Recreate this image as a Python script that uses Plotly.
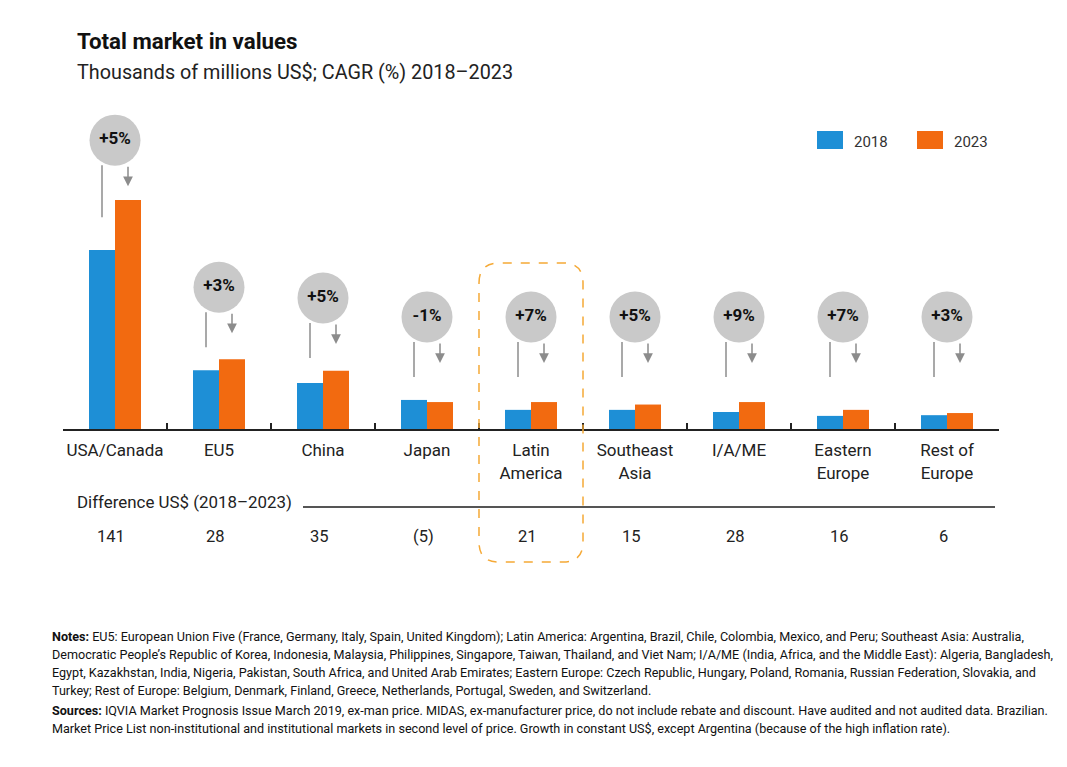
import plotly.graph_objects as go

# ---------------- data ----------------
categories = ["USA/Canada", "EU5", "China", "Japan", "Latin America",
              "Southeast Asia", "I/A/ME", "Eastern Europe", "Rest of Europe"]
tick_labels = ["USA/Canada", "EU5", "China", "Japan", "Latin<br>America",
               "Southeast<br>Asia", "I/A/ME", "Eastern<br>Europe", "Rest of<br>Europe"]
values_2018 = [505, 166, 130, 82, 54, 54, 48, 37, 39]
values_2023 = [646, 197, 164, 76, 76, 69, 76, 54, 45]
cagr_labels = ["+5%", "+3%", "+5%", "-1%", "+7%", "+5%", "+9%", "+7%", "+3%"]
difference = [141, 28, 35, -5, 21, 15, 28, 16, 6]
highlight = "Latin America"

notes_lines = [
    "<b>Notes:</b> EU5: European Union Five (France, Germany, Italy, Spain, United Kingdom); Latin America: Argentina, Brazil, Chile, Colombia, Mexico, and Peru; Southeast Asia: Australia,",
    "Democratic People\u2019s Republic of Korea, Indonesia, Malaysia, Philippines, Singapore, Taiwan, Thailand, and Viet Nam; I/A/ME (India, Africa, and the Middle East): Algeria, Bangladesh,",
    "Egypt, Kazakhstan, India, Nigeria, Pakistan, South Africa, and United Arab Emirates; Eastern Europe: Czech Republic, Hungary, Poland, Romania, Russian Federation, Slovakia, and",
    "Turkey; Rest of Europe: Belgium, Denmark, Finland, Greece, Netherlands, Portugal, Sweden, and Switzerland.",
]
sources_lines = [
    "<b>Sources:</b> IQVIA Market Prognosis Issue March 2019, ex-man price. MIDAS, ex-manufacturer price, do not include rebate and discount. Have audited and not audited data. Brazilian.",
    "Market Price List non-institutional and institutional markets in second level of price. Growth in constant US$, except Argentina (because of the high inflation rate).",
]

# ---------------- style ----------------
BLUE = "#1E8FD6"
ORANGE = "#F26A10"
GREY_BUBBLE = "#C9C9C9"
GREY_LINE = "#8C8C8C"
DASH_COLOR = "#F5A936"
FONT = "Roboto"
TXT = "#222222"

W, H = 1067, 767
OFF = 8                       # page margin around the figure
SPL, SPR, SPT, SPB = 63, 999, 110, 429   # plot area in screen pixels
PL, PR, PT, PB = SPL - OFF, SPR - OFF, SPT - OFF, SPB - OFF
YMAX = 900


def px_x(px):
    return (px - SPL) / (SPR - SPL)


def px_y(py):
    return (SPB - py) / (SPB - SPT)


BUBBLE_R = 25
# bubble placement derived from 2023 values
bubble_y = [max(316, 0.924 * v + 218) for v in values_2023]

fig = go.Figure()
fig.add_trace(go.Bar(x=categories, y=values_2018, name="2018", marker_color=BLUE,
                     marker_line_width=0, showlegend=False))
fig.add_trace(go.Bar(x=categories, y=values_2023, name="2023", marker_color=ORANGE,
                     marker_line_width=0, showlegend=False))
fig.add_trace(go.Scatter(
    x=categories, y=bubble_y, mode="markers+text",
    marker=dict(size=2 * BUBBLE_R + 1, color=GREY_BUBBLE, line_width=0),
    text=["<b>%s</b>" % t for t in cagr_labels], textposition="middle center",
    textfont=dict(family=FONT, size=17, color="#111111"),
    showlegend=False, cliponaxis=False, hoverinfo="skip"))

shapes = []
annotations = []
for i, yc in enumerate(bubble_y):
    # plain line from the 2018 bar side
    shapes.append(dict(type="line", xref="x", yref="y", x0=i - 0.125, x1=i - 0.125,
                       ysizemode="pixel", yanchor=yc, y0=-BUBBLE_R, y1=-(77 if i == 0 else 60),
                       line=dict(color=GREY_LINE, width=1.5)))
    # arrow towards the 2023 bar
    annotations.append(dict(x=i + 0.125, y=yc, xref="x", yref="y", yshift=-46,
                            text="", showarrow=True, ax=0, ay=-21,
                            arrowhead=2, arrowsize=1.3, arrowwidth=1.5,
                            arrowcolor=GREY_LINE))

# highlight box (rounded, dashed) around the highlighted category
hi = categories.index(highlight)
n = len(categories)
bx0 = SPL + hi / n * (SPR - SPL)
bx1 = SPL + (hi + 1) / n * (SPR - SPL)
bt, bb, r = 263, 562, 20


def P(x, y):
    return "%.5f,%.5f" % (px_x(x), px_y(y))


path = ("M" + P(bx0, bt + r) + " Q" + P(bx0, bt) + " " + P(bx0 + r, bt) +
        " L" + P(bx1 - r, bt) + " Q" + P(bx1, bt) + " " + P(bx1, bt + r) +
        " L" + P(bx1, bb - r) + " Q" + P(bx1, bb) + " " + P(bx1 - r, bb) +
        " L" + P(bx0 + r, bb) + " Q" + P(bx0, bb) + " " + P(bx0, bb - r) + " Z")
shapes.append(dict(type="path", xref="paper", yref="paper", path=path,
                   line=dict(color=DASH_COLOR, width=1.5, dash="dash"), layer="above"))

# legend (manual)
for x0, col, lab in [(817, BLUE, "2018"), (917, ORANGE, "2023")]:
    shapes.append(dict(type="rect", xref="paper", yref="paper",
                       x0=px_x(x0), x1=px_x(x0 + 26), y0=px_y(149), y1=px_y(131),
                       fillcolor=col, line_width=0))
    annotations.append(dict(xref="paper", yref="paper", x=px_x(x0 + 35), y=px_y(142),
                            xanchor="left", yanchor="middle", text=lab, showarrow=False,
                            font=dict(family=FONT, size=15, color="#333333")))

# difference row
shapes.append(dict(type="line", xref="paper", yref="paper", x0=px_x(303), x1=px_x(995),
                   y0=px_y(507), y1=px_y(507), line=dict(color="#555555", width=2)))
annotations.append(dict(xref="paper", yref="paper", x=px_x(75), y=px_y(502),
                        xanchor="left", yanchor="middle", showarrow=False,
                        text="Difference US$ (2018\u20132023)",
                        font=dict(family=FONT, size=16.9, color=TXT)))
for c, d in zip(categories, difference):
    annotations.append(dict(xref="x", yref="paper", x=c, y=px_y(536), xshift=-4,
                            xanchor="center", yanchor="middle", showarrow=False,
                            text=str(d) if d >= 0 else "(%d)" % abs(d),
                            font=dict(family=FONT, size=16.5, color=TXT)))

# title & subtitle
annotations.append(dict(xref="paper", yref="paper", x=px_x(75), y=px_y(41),
                        xanchor="left", yanchor="middle", showarrow=False,
                        text="<b>Total market in values</b>",
                        font=dict(family=FONT, size=22.3, color="#111111")))
annotations.append(dict(xref="paper", yref="paper", x=px_x(75), y=px_y(72),
                        xanchor="left", yanchor="middle", showarrow=False,
                        text="Thousands of millions US$; CAGR (%) 2018\u20132023",
                        font=dict(family=FONT, size=19.8, color="#222222")))

# notes & sources
for k, line in enumerate(notes_lines):
    annotations.append(dict(xref="paper", yref="paper", x=px_x(50), y=px_y(636 + 18 * k),
                            xanchor="left", yanchor="middle", showarrow=False, text=line,
                            font=dict(family=FONT, size=12.6, color="#111111")))
for k, line in enumerate(sources_lines):
    annotations.append(dict(xref="paper", yref="paper", x=px_x(50), y=px_y(710 + 18 * k),
                            xanchor="left", yanchor="middle", showarrow=False, text=line,
                            font=dict(family=FONT, size=12.6, color="#111111")))

fig.update_layout(
    width=W, height=H,
    margin=dict(l=PL, r=W - PR, t=PT, b=H - PB, pad=0),
    paper_bgcolor="white", plot_bgcolor="white",
    barmode="group", bargap=0.5, bargroupgap=0,
    shapes=shapes, annotations=annotations,
    font=dict(family=FONT, color=TXT),
    xaxis=dict(type="category", range=[-0.5, n - 0.5], tickmode="array",
               tickvals=categories, ticktext=tick_labels, tickangle=0,
               showline=True, linecolor="#222222", linewidth=2,
               ticks="inside", tickson="boundaries", ticklen=6, tickwidth=2,
               tickcolor="#222222", showgrid=False, zeroline=False,
               ticklabelstandoff=5,
               tickfont=dict(family=FONT, size=17, color=TXT)),
    yaxis=dict(range=[0, YMAX], visible=False, showgrid=False, zeroline=False),
    showlegend=False,
)

fig.write_html("out.html")
